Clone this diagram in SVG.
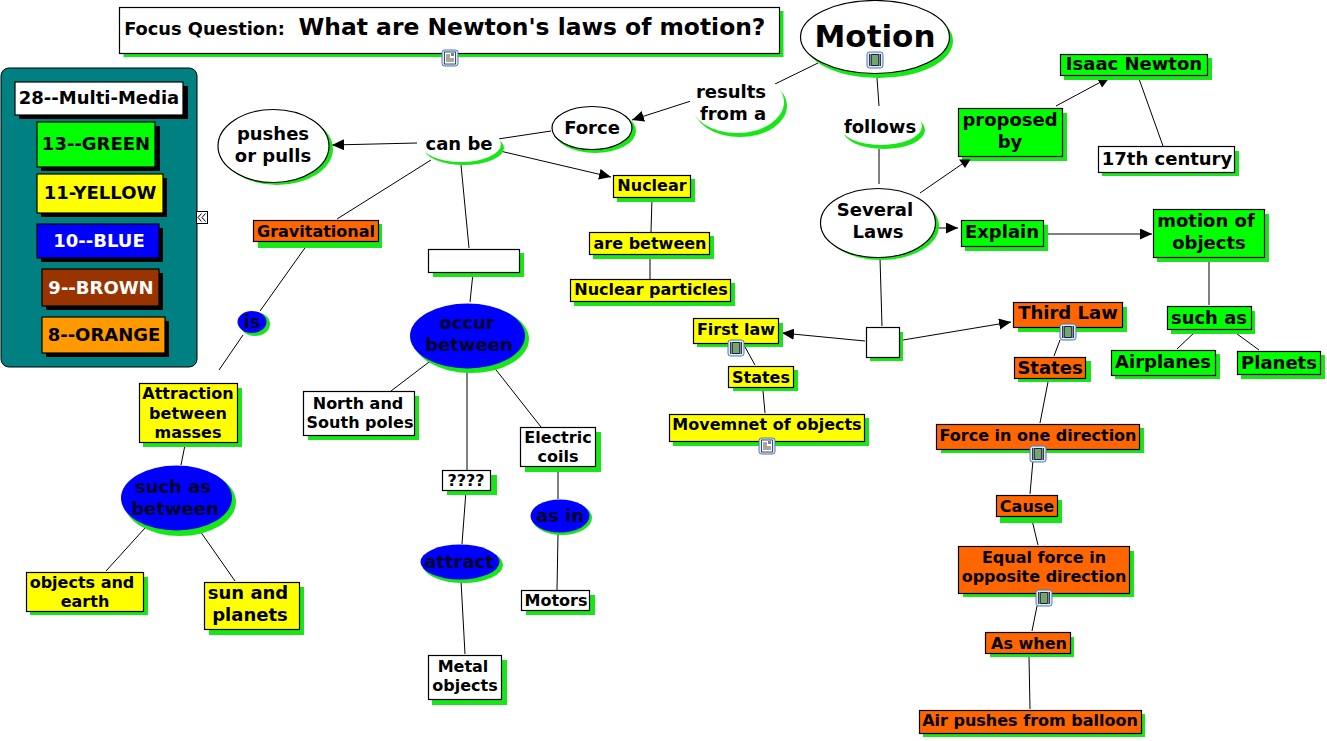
<svg xmlns="http://www.w3.org/2000/svg" xmlns:xlink="http://www.w3.org/1999/xlink" width="1327" height="741" viewBox="0 0 1327 741">
<style>
text{font-family:"DejaVu Sans",Verdana,sans-serif;font-weight:bold;fill:#000;text-anchor:middle}
.s{fill:#19e619;stroke:none}
.k{fill:#000;stroke:none}
.b{stroke:#000;stroke-width:1.2}
.w{fill:#fff}.g{fill:#0f0}.y{fill:#ff0}.u{fill:#00f}.o{fill:#f60}.r{fill:#930}.a{fill:#f90}
.n{fill:#00002a}
.t15{font-size:16px}.t17{font-size:18px}.t18{font-size:18px}
#conn line{stroke:#000;stroke-width:1;fill:none}
.arr{marker-end:url(#ah)}
</style>
<defs>
<marker id="ah" markerUnits="userSpaceOnUse" markerWidth="13" markerHeight="12" refX="12" refY="5.5" orient="auto"><path d="M0 0L12 5.500L0 11Z" fill="#000"/></marker>
<g id="film"><rect x="-8" y="-8" width="16" height="16" rx="2.500" fill="#dbe8f8" stroke="#4a78c0"/><rect x="-6" y="-6" width="12" height="12" fill="#223"/><rect x="-3" y="-5" width="6" height="10" fill="#6fa86f"/><path d="M-4.500 -5.500v11M4.500 -5.500v11" stroke="#eee" stroke-width="1.500" stroke-dasharray="1 1"/></g>
<g id="doc"><rect x="-8" y="-8" width="16" height="16" rx="2.500" fill="#dbe8f8" stroke="#4a78c0"/><rect x="-5.500" y="-6" width="11" height="12" fill="#ffe" stroke="#223" stroke-width=".8"/><path d="M-4 -3h4M-4 -1h4M-4 1h8M-4 3h8" stroke="#223" stroke-width=".8"/><rect x="1" y="-5" width="3" height="3" fill="#68a"/></g>
</defs>
<rect width="1327" height="741" fill="#fff"/>
<g id="conn">
<line x1="818" y1="63" x2="775" y2="84"/>
<line x1="877" y1="78" x2="879" y2="106"/>
<line x1="879" y1="149" x2="879" y2="184"/>
<line x1="694" y1="100" x2="632" y2="120" class="arr"/>
<line x1="551" y1="131" x2="498" y2="139"/>
<line x1="417" y1="143" x2="332" y2="145" class="arr"/>
<line x1="500" y1="151" x2="611" y2="177" class="arr"/>
<line x1="431" y1="160" x2="337" y2="219"/>
<line x1="461" y1="165" x2="469" y2="248"/>
<line x1="652" y1="198" x2="651" y2="232"/>
<line x1="650" y1="256" x2="650" y2="279"/>
<line x1="307" y1="245" x2="260" y2="311"/>
<line x1="243" y1="335" x2="219" y2="370"/>
<line x1="185" y1="445" x2="181" y2="465"/>
<line x1="145" y1="528" x2="106" y2="571"/>
<line x1="200" y1="531" x2="235" y2="581"/>
<line x1="473" y1="273" x2="470" y2="302"/>
<line x1="429" y1="362" x2="391" y2="391"/>
<line x1="467" y1="369" x2="467" y2="470"/>
<line x1="493" y1="366" x2="541" y2="427"/>
<line x1="466" y1="491" x2="462" y2="544"/>
<line x1="461" y1="581" x2="465" y2="654"/>
<line x1="558" y1="468" x2="558" y2="499"/>
<line x1="558" y1="534" x2="557" y2="590"/>
<line x1="920" y1="193" x2="965" y2="162"/>
<line x1="1056" y1="106" x2="1110" y2="77" class="arr"/>
<line x1="1138" y1="76" x2="1163" y2="146"/>
<line x1="937" y1="228" x2="958" y2="228" class="arr"/>
<line x1="1047" y1="234" x2="1152" y2="234" class="arr"/>
<line x1="1209" y1="258" x2="1209" y2="305"/>
<line x1="1196" y1="331" x2="1177" y2="349"/>
<line x1="1233" y1="331" x2="1259" y2="350"/>
<line x1="880" y1="258" x2="882" y2="326"/>
<line x1="865" y1="341" x2="782" y2="333" class="arr"/>
<line x1="903" y1="340" x2="1011" y2="322" class="arr"/>
<line x1="745" y1="347" x2="755" y2="365"/>
<line x1="763" y1="391" x2="765" y2="413"/>
<line x1="1060" y1="340" x2="1054" y2="356"/>
<line x1="1048" y1="382" x2="1040" y2="423"/>
<line x1="1033" y1="460" x2="1030" y2="494"/>
<line x1="1032" y1="520" x2="1038" y2="545"/>
<line x1="1037" y1="606" x2="1032" y2="631"/>
<line x1="1029" y1="657" x2="1030" y2="709"/>
</g>
<g id="legend">
<rect x="1" y="68" width="196" height="299" rx="8" fill="#008080" stroke="#000"/>
<g id="leg1"><rect class="k" x="19" y="86" width="169" height="33"/><rect class="w b" x="15" y="82" width="168" height="33"/><text class="t18" x="99" y="104">28--Multi-Media</text></g>
<g id="leg2"><rect class="k" x="41" y="126" width="119" height="45"/><rect class="g b" x="37" y="122" width="118" height="45"/><text class="t18" x="96" y="150">13--GREEN</text></g>
<g id="leg3"><rect class="k" x="41" y="178" width="126" height="39"/><rect class="y b" x="37" y="174" width="126" height="39"/><text class="t18" x="100" y="199">11-YELLOW</text></g>
<g id="leg4"><rect class="k" x="41" y="228" width="122" height="34"/><rect class="u b" x="37" y="224" width="122" height="34"/><text class="t18" x="99" y="247" style="fill:#fff">10--BLUE</text></g>
<g id="leg5"><rect class="k" x="46" y="273" width="117" height="37"/><rect class="r b" x="42" y="269" width="117" height="37"/><text class="t18" x="101" y="294" style="fill:#fff">9--BROWN</text></g>
<g id="leg6"><rect class="k" x="46" y="321" width="123" height="36"/><rect class="a b" x="42" y="317" width="123" height="36"/><text class="t18" x="104" y="341">8--ORANGE</text></g>
</g>
<g id="collapse"><rect x="196.500" y="211.500" width="11" height="12" fill="#fff" stroke="#000"/><path d="M201.500 213.500l-3.500 4 3.500 4M205.500 213.500l-3.500 4 3.500 4" fill="none" stroke="#000"/></g>
<g id="focus"><rect class="s" x="123.500" y="11" width="660" height="46"/><rect class="w b" x="119.500" y="7.500" width="660" height="46"/><text x="204.500" y="35" style="font-size:17.800px">Focus Question:</text><text x="532" y="35" style="font-size:23.400px">What are Newton's laws of motion?</text><use xlink:href="#doc" href="#doc" x="450" y="58"/></g>
<g id="motion"><ellipse class="s" cx="878.500" cy="41" rx="74.500" ry="37"/><ellipse class="w b" cx="875" cy="37" rx="74.500" ry="36.500"/><text x="875" y="47" style="font-size:31px">Motion</text><use xlink:href="#film" href="#film" x="875" y="60"/></g>
<g id="results"><ellipse class="s" cx="740" cy="106" rx="47" ry="31"/><ellipse class="w" cx="737" cy="102" rx="47" ry="31"/><text class="t17" x="731" y="98">results</text><text class="t17" x="733" y="120">from a</text></g>
<g id="follows"><ellipse class="s" cx="884" cy="130" rx="41" ry="19"/><ellipse class="w" cx="881" cy="126" rx="41" ry="19"/><text class="t17" x="880" y="133">follows</text></g>
<g id="force"><ellipse class="s" cx="595" cy="131" rx="41" ry="22"/><ellipse class="w b" cx="592" cy="128" rx="40" ry="21.500"/><text class="t17" x="592" y="134">Force</text></g>
<g id="canbe"><ellipse class="s" cx="464" cy="148" rx="40" ry="17"/><ellipse class="w" cx="461" cy="144" rx="40" ry="18"/><text class="t17" x="459" y="150">can be</text></g>
<g id="pushes"><ellipse class="s" cx="277" cy="149" rx="56" ry="36"/><ellipse class="w b" cx="273.500" cy="146" rx="55.500" ry="36.500"/><text class="t17" x="273" y="140">pushes</text><text class="t17" x="273" y="162">or pulls</text></g>
<g id="nuclear"><rect class="s" x="617" y="179" width="78" height="23"/><rect class="y b" x="613.500" y="175.500" width="77" height="22"/><text class="t15" x="652" y="191">Nuclear</text></g>
<g id="between"><rect class="s" x="593" y="236" width="121" height="23"/><rect class="y b" x="589.500" y="232.500" width="120" height="22"/><text class="t15" x="650" y="249">are between</text></g>
<g id="particles"><rect class="s" x="574" y="283" width="161" height="23"/><rect class="y b" x="570.500" y="279.500" width="160" height="22"/><text class="t15" x="651" y="295">Nuclear particles</text></g>
<g id="grav"><rect class="s" x="258" y="224" width="124" height="24"/><rect class="o b" x="253.500" y="220.500" width="125" height="21"/><text class="t15" x="316" y="237">Gravitational</text></g>
<g id="blank1"><rect class="s" x="433" y="253" width="91" height="24"/><rect class="w b" x="428.500" y="249.500" width="91" height="23"/></g>
<g id="is"><ellipse class="s" cx="255" cy="324" rx="15" ry="12"/><ellipse class="u" cx="252" cy="322" rx="14.500" ry="11"/><text class="t17 n" x="252" y="328">is</text></g>
<g id="attraction"><rect class="s" x="143" y="388" width="99" height="59"/><rect class="y b" x="139.500" y="383.500" width="98" height="59"/><text class="t15" x="188" y="399">Attraction</text><text class="t15" x="188" y="419">between</text><text class="t15" x="188" y="438">masses</text></g>
<g id="suchas1"><ellipse class="s" cx="180" cy="502" rx="56" ry="34"/><ellipse class="u" cx="176.500" cy="498" rx="55.500" ry="32.500"/><text class="t17 n" x="173" y="493">such as</text><text class="t17 n" x="175" y="515">between</text></g>
<g id="objects"><rect class="s" x="30" y="577" width="118" height="38"/><rect class="y b" x="26.500" y="572.500" width="117" height="39"/><text class="t15" x="82" y="588">objects and</text><text class="t15" x="85" y="607">earth</text></g>
<g id="sun"><rect class="s" x="209" y="587" width="95" height="48"/><rect class="y b" x="204.500" y="582.500" width="95" height="47"/><text class="t17" x="248" y="599">sun and</text><text class="t17" x="250" y="621">planets</text></g>
<g id="occur"><ellipse class="s" cx="471" cy="339" rx="58" ry="34"/><ellipse class="u" cx="467.500" cy="336" rx="57.500" ry="32.500"/><text class="t17 n" x="467" y="329">occur</text><text class="t17 n" x="469" y="351">between</text></g>
<g id="poles"><rect class="s" x="308" y="396" width="111" height="44"/><rect class="w b" x="303.500" y="391.500" width="111" height="44"/><text class="t15" x="358" y="409">North and</text><text class="t15" x="360" y="428">South poles</text></g>
<g id="coils"><rect class="s" x="525" y="432" width="76" height="40"/><rect class="w b" x="520.500" y="427.500" width="75" height="39"/><text class="t15" x="558" y="443">Electric</text><text class="t15" x="558" y="462">coils</text></g>
<g id="q"><rect class="s" x="447" y="475" width="50" height="20"/><rect class="w b" x="442.500" y="470.500" width="48" height="20"/><text class="t15" x="466" y="486">????</text></g>
<g id="asin"><ellipse class="s" cx="562" cy="518" rx="30" ry="17"/><ellipse class="u" cx="560" cy="516" rx="29.500" ry="16.500"/><text class="t17 n" x="560" y="522">as in</text></g>
<g id="attract"><ellipse class="s" cx="463" cy="565" rx="40" ry="18"/><ellipse class="u" cx="460" cy="562" rx="39.500" ry="17.500"/><text class="t17 n" x="459" y="568">attract</text></g>
<g id="motors"><rect class="s" x="526" y="595" width="69" height="20"/><rect class="w b" x="521.500" y="590.500" width="68" height="20"/><text class="t15" x="556" y="606">Motors</text></g>
<g id="metal"><rect class="s" x="432" y="660" width="75" height="45"/><rect class="w b" x="428.500" y="655.500" width="73" height="44"/><text class="t15" x="463" y="672">Metal</text><text class="t15" x="465" y="691">objects</text></g>
<g id="laws"><ellipse class="s" cx="881" cy="226" rx="58" ry="34"/><ellipse class="w b" cx="878" cy="223" rx="57.500" ry="34.500"/><text class="t17" x="875" y="216">Several</text><text class="t17" x="878" y="238">Laws</text></g>
<g id="newton"><rect class="s" x="1064" y="58" width="148" height="22"/><rect class="g b" x="1060.500" y="54.500" width="147" height="21"/><text class="t17" x="1134" y="70">Isaac Newton</text></g>
<g id="proposed"><rect class="s" x="962" y="113" width="105" height="48"/><rect class="g b" x="958.500" y="108.500" width="104" height="48"/><text class="t18" x="1010" y="126">proposed</text><text class="t18" x="1010" y="148">by</text></g>
<g id="propArrow"><path class="k" d="M959 159.500L970.500 159.500L965 168Z"/></g>
<g id="c17"><rect class="s" x="1102" y="151" width="137" height="25"/><rect class="w b" x="1098.500" y="146.500" width="136" height="26"/><text class="t17" x="1167" y="165">17th century</text></g>
<g id="explain"><rect class="s" x="965" y="225" width="83" height="26"/><rect class="g b" x="961.500" y="220.500" width="82" height="26"/><text class="t17" x="1002" y="238">Explain</text></g>
<g id="mobj"><rect class="s" x="1157" y="214" width="112" height="48"/><rect class="g b" x="1153.500" y="209.500" width="111" height="48"/><text class="t17" x="1206" y="227">motion of</text><text class="t17" x="1209" y="249">objects</text></g>
<g id="suchas2"><rect class="s" x="1171" y="311" width="84" height="23"/><rect class="g b" x="1167.500" y="306.500" width="84" height="23"/><text class="t17" x="1209" y="324">such as</text></g>
<g id="air"><rect class="s" x="1115" y="354" width="105" height="25"/><rect class="g b" x="1111.500" y="350.500" width="104" height="25"/><text class="t17" x="1163" y="368">Airplanes</text></g>
<g id="planets"><rect class="s" x="1241" y="355" width="84" height="24"/><rect class="g b" x="1237.500" y="351.500" width="83" height="23"/><text class="t17" x="1279" y="369">Planets</text></g>
<g id="blank2"><rect class="s" x="870" y="332" width="33" height="29"/><rect class="w b" x="866.500" y="327.500" width="33" height="30"/></g>
<g id="first"><rect class="s" x="697" y="323" width="86" height="24"/><rect class="y b" x="693.500" y="318.500" width="85" height="25"/><text class="t15" x="736" y="335">First law</text><use xlink:href="#film" href="#film" x="736" y="348"/></g>
<g id="states1"><rect class="s" x="733" y="370" width="65" height="21"/><rect class="y b" x="728.500" y="366.500" width="65" height="21"/><text class="t15" x="761" y="383">States</text></g>
<g id="move"><rect class="s" x="673" y="418" width="196" height="28"/><rect class="y b" x="669.500" y="414.500" width="195" height="27"/><text class="t15" x="767" y="430">Movemnet of objects</text><use xlink:href="#doc" href="#doc" x="767" y="446"/></g>
<g id="third"><rect class="s" x="1018" y="307" width="109" height="25"/><rect class="o b" x="1013.500" y="302.500" width="109" height="25"/><text class="t17" x="1068" y="319">Third Law</text><use xlink:href="#film" href="#film" x="1068" y="332"/></g>
<g id="states2"><rect class="s" x="1018" y="361" width="73" height="21"/><rect class="o b" x="1014.500" y="357.500" width="71" height="21"/><text class="t17" x="1050" y="374">States</text></g>
<g id="fone"><rect class="s" x="941" y="428" width="203" height="25"/><rect class="o b" x="936.500" y="424.500" width="203" height="25"/><text class="t15" x="1038" y="441">Force in one direction</text><use xlink:href="#film" href="#film" x="1038" y="454"/></g>
<g id="cause"><rect class="s" x="1000" y="500" width="62" height="23"/><rect class="o b" x="996.500" y="495.500" width="61" height="21"/><text class="t15" x="1027" y="512">Cause</text></g>
<g id="equal"><rect class="s" x="963" y="551" width="171" height="46"/><rect class="o b" x="958.500" y="546.500" width="171" height="47"/><text class="t15" x="1044" y="563">Equal force in</text><text class="t15" x="1044" y="582">opposite direction</text><use xlink:href="#film" href="#film" x="1044" y="598"/></g>
<g id="aswhen"><rect class="s" x="990" y="637" width="84" height="20"/><rect class="o b" x="985.500" y="632.500" width="85" height="21"/><text class="t15" x="1029" y="649">As when</text></g>
<g id="airp"><rect class="s" x="923" y="714" width="222" height="23"/><rect class="o b" x="919.500" y="710.500" width="222" height="23"/><text class="t15" x="1030" y="726">Air pushes from balloon</text></g>
</svg>
